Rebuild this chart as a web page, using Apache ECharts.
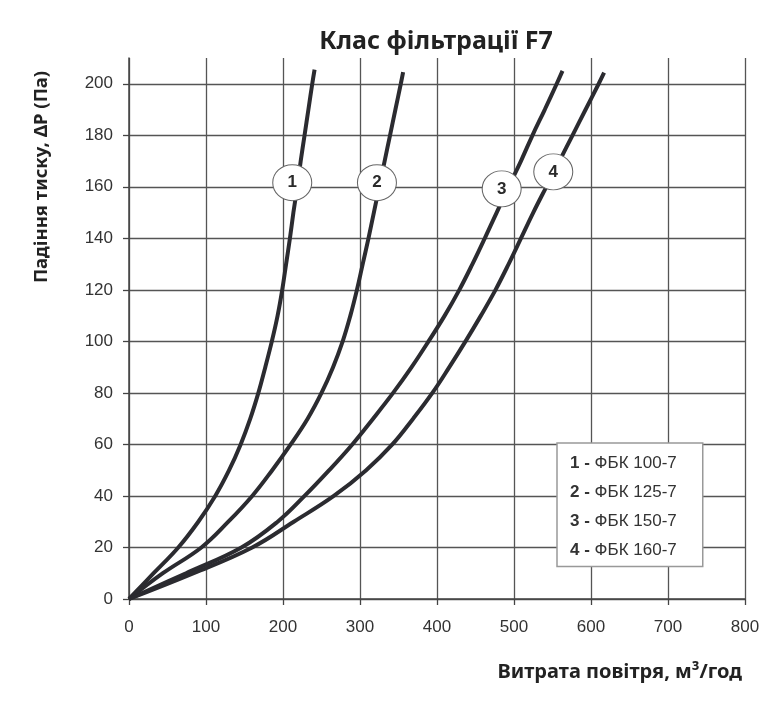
<!DOCTYPE html>
<html>
<head>
<meta charset="utf-8">
<script src="https://cdn.jsdelivr.net/npm/echarts@6/dist/echarts.min.js"></script>
<style>html,body{margin:0;padding:0;background:#fff}#c{width:781px;height:701px}</style>
</head>
<body>
<div id="c"></div>
<script>
// ---- data ----
const seriesNames = ['ФБК 100-7', 'ФБК 125-7', 'ФБК 150-7', 'ФБК 160-7'];
const dp1 = [0,10,20,30,40,50,60,70,80,90,100,110,120,130,140,150,160,170,180,190,200,205.5];
const flow1 = [0,32,64,90,112,130,145,157.5,168,177,185.5,193,199,204,209,213.5,218.5,223,228,233,238,241];
const dp2 = [0,10,20,30,40,50,60,70,80,90,100,110,120,130,140,150,160,170,180,190,200,204.5];
const flow2 = [0,44,94,129,160,186,210,232,250,265,277.5,287.5,296,303.5,311,318,325,332,339,346,353,356];
const dp3 = [0,10,20,30,40,50,60,70,80,90,100,110,120,130,140,150,160,170,180,190,200,205];
const flow3 = [0,74,146,193,228,260,290,317,343,367,389,410,429,446,462,477.5,493,509,524,540,555.5,563];
const dp4 = [0,10,20,30,40,50,60,70,80,90,100,110,120,130,140,150,160,170,180,190,200,204.3];
const flow4 = [0,84,160,214,266,308,342,369,394,416,437,457,476,493,509,525,542,559,576,593,610,617];
const labelFlow = [212, 322, 484, 551];
const labelDp = [161.6, 161.6, 159.2, 165.8];
const xTicks = [0,100,200,300,400,500,600,700,800];
const yTicks = [0,20,40,60,80,100,120,140,160,180,200];

const flows = [flow1, flow2, flow3, flow4];
const dps = [dp1, dp2, dp3, dp4];

const lineColor = '#2b2b30';
const gridColor = '#555';
const txt = '#333';
const fontFam = '"Liberation Sans", Arial, sans-serif';

const series = seriesNames.map((n, i) => ({
  name: n,
  type: 'line',
  data: flows[i].map((f, k) => [f, dps[i][k]]),
  smooth: 0.4,
  showSymbol: false,
  symbol: 'none',
  lineStyle: {color: lineColor, width: 4},
  itemStyle: {color: lineColor},
  z: 3
}));
series.push({
  type: 'scatter',
  name: 'labels',
  data: labelFlow.map((f, i) => [f, labelDp[i], String(i + 1)]),
  symbol: 'circle',
  symbolSize: [39, 36],
  itemStyle: {color: '#fff', opacity: 1, borderColor: '#666', borderWidth: 1},
  label: {show: true, position: 'inside', formatter: p => p.value[2], fontWeight: 'bold', fontSize: 17, color: '#2a2a2a', fontFamily: fontFam},
  emphasis: {disabled: true},
  z: 10
});

const chart = echarts.init(document.getElementById('c'), null, {renderer: 'canvas'});
chart.setOption({
  animation: false,
  backgroundColor: '#fff',
  title: {
    text: 'Клас фільтрації F7',
    left: 431, top: 24, textAlign: 'center',
    textStyle: {fontFamily: '"Noto Sans", sans-serif', fontWeight: 'bold', fontSize: 25, color: '#222'}
  },
  grid: {left: 129, right: 36, top: 58, bottom: 102},
  xAxis: {
    type: 'value', min: 0, max: 800, interval: 50,
    axisLine: {show: true, lineStyle: {color: '#444', width: 1.5}},
    axisTick: {show: true, customValues: xTicks, length: 6, lineStyle: {color: '#444', width: 1.3}},
    axisLabel: {customValues: xTicks, margin: 20, fontSize: 17, color: txt, fontFamily: fontFam},
    splitLine: {show: true, lineStyle: {color: gridColor, width: 1.3}}
  },
  yAxis: {
    type: 'value', min: 0, max: 210, interval: 10,
    axisLine: {show: true, lineStyle: {color: '#444', width: 1.5}},
    axisTick: {show: true, customValues: yTicks, length: 6, lineStyle: {color: '#444', width: 1.3}},
    axisLabel: {customValues: yTicks, margin: 16, fontSize: 17, color: txt, fontFamily: fontFam},
    splitLine: {show: true, lineStyle: {color: gridColor, width: 1.3}}
  },
  legend: {
    data: seriesNames,
    orient: 'vertical',
    left: 557, top: 443,
    icon: 'none', itemWidth: 0, itemHeight: 20, itemGap: 10.5,
    padding: [10, 26, 8, 8],
    backgroundColor: '#fff', borderColor: '#999', borderWidth: 1.5,
    selectedMode: false,
    formatter: name => '{b|' + (seriesNames.indexOf(name) + 1) + ' - }{n|' + name + '}',
    textStyle: {
      rich: {
        b: {fontWeight: 'bold', fontSize: 17, lineHeight: 20, color: txt, fontFamily: fontFam},
        n: {fontSize: 17, lineHeight: 20, color: txt, fontFamily: fontFam}
      }
    }
  },
  graphic: [
    {type: 'text', x: 42, y: 177, rotation: Math.PI / 2,
     style: {text: 'Падіння тиску, ΔP (Па)', fontFamily: '"Noto Sans", sans-serif', fontWeight: 'bold', fontSize: 18.5, fill: '#222', align: 'center', verticalAlign: 'middle'}},
    {type: 'text', x: 742, y: 672,
     style: {text: 'Витрата повітря, м³/год', fontFamily: '"Noto Sans", sans-serif', fontWeight: 'bold', fontSize: 20, fill: '#222', align: 'right', verticalAlign: 'middle'}}
  ],
  series: series
});
</script>
</body>
</html>
